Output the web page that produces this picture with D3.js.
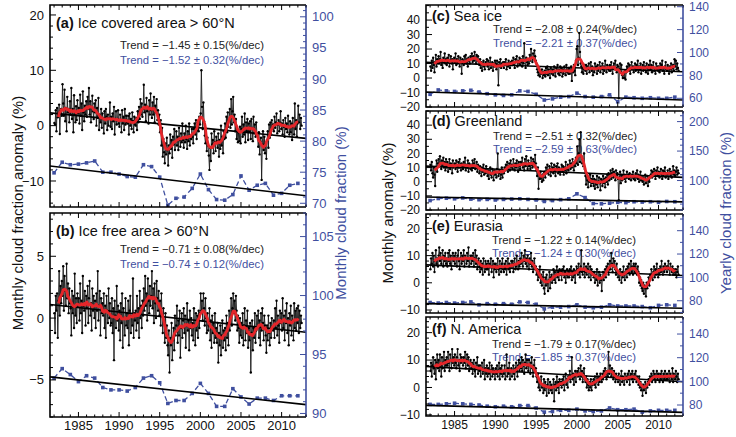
<!DOCTYPE html>
<html><head><meta charset="utf-8">
<script src="https://cdn.jsdelivr.net/npm/d3@7"></script>
<style>body{margin:0;background:#fff}text{font-family:"Liberation Sans",Arial,Helvetica,sans-serif}</style>
</head><body><svg id="chart" width="736" height="437"></svg>
<script>
// ---------------- DATA ----------------
const firstYear = 1982;                    // monthly series start (Jan 1982)
const yearlyYears = d3.range(1982, 2013);  // yearly series 1982..2012
const xTickYears = [1985, 1990, 1995, 2000, 2005, 2010];

const iceCoveredMonthly = [
0.5,0.2,2.8,-1.0,3.2,1.5,2.0,3.8,-1.5,2.6,3.0,1.8,
7.5,4.0,1.8,6.5,0.8,3.2,-1.0,5.2,2.4,3.0,0.6,4.4,
2.0,6.8,1.2,3.0,-1.2,5.5,2.0,0.6,3.5,1.0,4.6,2.2,
3.2,0.4,5.6,1.8,4.0,-0.8,6.2,2.4,0.8,3.6,2.0,4.4,
1.6,5.2,3.0,6.8,2.0,4.4,0.6,3.4,5.4,2.6,1.2,4.0,
2.4,4.6,0.0,3.2,1.4,5.0,-0.8,2.0,0.6,3.0,-0.4,2.2,
1.2,-1.4,2.6,0.4,3.0,1.6,-0.8,2.0,0.0,1.4,4.2,-0.2,
1.6,-0.6,2.2,0.8,3.4,-1.6,1.0,2.6,0.2,1.0,2.8,0.4,
-0.2,2.0,1.0,-1.2,2.8,0.4,1.6,-0.8,3.0,0.2,1.8,0.6,
0.4,1.8,-1.6,2.2,0.0,1.2,-0.6,2.4,0.8,-1.2,1.6,0.2,
0.0,1.4,-0.8,2.6,0.6,3.4,1.2,4.8,2.0,4.0,1.6,3.0,
7.4,2.4,3.8,0.8,5.0,2.6,3.4,0.4,4.6,2.0,5.8,2.8,
1.4,4.2,2.0,5.2,0.6,3.6,2.4,4.8,1.0,2.8,0.2,2.0,
-1.2,1.0,-3.6,-0.4,-5.6,-2.4,-4.8,-6.8,-3.2,-5.2,-2.2,-4.4,
-7.2,-3.6,-5.0,-1.6,-4.2,-2.6,-5.8,-2.0,-3.4,-0.6,-4.4,-2.8,
-1.0,-3.6,-2.0,-4.4,-0.4,-2.6,-3.8,-1.4,-3.0,0.4,-2.6,-4.0,
-1.4,-3.0,0.0,-2.4,-4.2,-1.0,-2.8,0.4,-3.6,-1.8,-2.4,-0.6,
-2.0,-3.2,-0.6,0.4,-1.6,1.0,-2.4,-0.8,0.6,-1.0,1.6,0.2,
2.2,10.0,3.4,-0.6,4.2,0.8,-1.8,-3.2,-0.6,-4.6,-2.2,-3.6,
-5.4,-8.0,-4.0,-6.4,-1.4,-3.4,-2.6,-5.0,-1.0,-3.0,-4.6,-2.0,
-2.8,-4.0,-1.4,-5.6,-2.6,-4.2,0.0,-3.6,-2.0,-5.0,-1.0,-2.4,
0.4,-2.2,1.6,-1.2,2.4,-0.2,1.0,3.0,-0.4,4.8,0.2,2.6,
5.2,0.6,2.0,-1.0,1.2,-2.4,-0.6,-3.0,-1.2,-2.8,-0.2,-3.2,
-0.6,1.6,-2.0,0.2,-1.6,2.2,-3.0,0.6,-1.0,1.2,-2.6,0.4,
-1.0,0.8,-2.4,1.2,-0.4,-2.8,1.6,-1.4,0.2,-2.0,0.6,-1.4,
-1.8,-3.8,-1.2,-5.2,-2.8,-2.2,-9.8,-3.4,-1.0,-4.4,-2.0,-5.0,
-3.2,-6.0,-2.6,-1.0,-4.0,0.2,-2.2,0.6,-1.6,1.0,-0.6,0.2,
-1.0,1.6,-0.4,0.6,2.2,-1.4,0.2,1.0,-1.0,0.6,2.6,-0.6,
0.4,-1.6,1.0,-0.2,-2.0,1.4,-0.6,0.4,-1.2,1.8,-0.2,-1.6,
0.8,-1.2,0.4,-2.6,1.4,-0.2,-1.6,4.0,-0.6,1.0,-2.0,0.4,
3.6,0.6,2.0,-0.6,1.4,0.0];

const iceFreeMonthly = [
0.4,-1.2,1.8,0.6,2.0,-1.6,1.4,3.8,0.2,2.6,1.2,3.0,
1.8,4.2,0.6,3.4,2.2,1.0,4.4,1.6,2.8,0.4,2.4,1.2,
0.8,-1.4,2.2,0.4,1.8,-0.8,3.6,0.2,1.6,-0.4,2.0,1.0,
1.6,-0.2,2.8,0.4,1.4,-1.2,3.4,1.0,0.6,2.2,-0.6,1.8,
0.8,2.6,-0.4,1.6,3.0,0.2,1.2,-1.0,2.4,0.6,1.8,0.0,
1.4,-0.8,2.0,0.6,3.8,-0.2,1.0,2.2,-1.4,1.6,0.4,1.2,
0.2,2.0,-0.8,1.0,-1.6,1.8,0.6,-0.4,2.4,0.0,1.2,-0.6,
-0.4,1.6,-1.2,0.8,-3.4,1.4,0.2,-0.8,2.6,-0.2,1.0,-1.0,
0.6,-1.8,1.2,-0.4,2.0,-2.4,0.8,0.0,-1.4,1.6,-0.6,0.4,
-0.8,1.4,-2.2,0.6,1.8,-1.2,0.2,-0.6,3.2,-1.6,0.4,-0.2,
0.6,-1.0,1.8,-0.4,0.8,-1.6,2.2,0.0,1.0,-0.8,1.4,0.2,
2.4,0.6,3.4,1.0,2.0,-0.2,3.2,1.4,0.4,2.6,1.0,1.8,
3.8,0.8,2.4,-0.4,2.8,1.2,0.0,3.0,1.6,0.6,2.2,0.2,
1.4,-0.6,2.0,0.2,-1.2,0.8,-0.4,-2.0,0.4,-1.6,-0.6,-2.2,
-3.0,-1.0,-4.4,-1.6,-2.2,-0.4,-3.4,-1.8,-0.8,-2.6,0.2,-1.4,
-0.6,1.0,-2.0,-0.2,-1.4,0.6,-3.2,-0.8,0.4,-1.6,-0.2,0.8,
-1.2,0.2,-2.4,-0.6,1.2,-1.0,-0.2,-2.6,0.6,-0.8,0.0,-1.4,
-0.4,-1.8,0.8,-0.6,-2.2,0.4,-1.0,0.2,-1.6,0.6,-0.8,0.4,
2.0,0.6,1.4,-0.2,2.0,0.8,-0.6,1.6,0.0,-1.2,0.4,-1.0,
-0.6,0.8,-1.8,-0.2,-2.4,0.2,-1.2,-0.4,-2.0,0.4,-1.6,-0.8,
-2.0,-0.4,-3.6,-1.2,-2.2,-0.6,-3.0,-1.4,-0.2,-2.4,-1.0,-1.8,
-0.8,-2.6,0.2,-1.6,-0.4,-2.2,0.6,-1.0,0.0,1.6,-0.6,0.8,
2.0,0.4,1.4,-0.2,1.8,0.6,-1.0,0.2,-0.8,-2.0,0.0,-1.4,
-0.4,-1.6,0.4,-2.2,-0.6,0.8,-1.8,-0.2,-1.2,0.6,-2.4,-0.8,
-1.8,-0.4,-4.4,-1.2,-0.2,-2.6,-0.8,-1.6,0.4,-2.0,-1.0,0.2,
-0.8,0.6,-1.6,-0.2,-2.2,0.4,-1.0,0.8,-0.4,-1.8,0.2,-0.6,
-1.4,-2.8,-0.6,-1.8,0.2,-1.2,-2.2,-0.4,-1.6,0.0,-0.8,-1.0,
-0.2,-1.6,0.8,-0.8,1.4,-1.4,0.2,-0.6,-2.0,0.6,-0.4,0.4,
-1.0,1.6,-0.8,0.2,-1.8,0.6,-0.4,1.2,-1.2,0.0,-2.2,0.4,
-0.6,1.0,-1.4,0.2,-0.2,-1.8,1.2,-0.8,0.6,-1.0,0.8,-0.4,
1.0,-1.2,0.6,-0.8,0.2,-0.4];

const seaIceMonthly = [
8,5,12,7,14,9,4,11,16,8,13,10,
15,10,13,18,9,12,7,14,11,17,10,13,
9,14,11,16,8,12,15,10,13,6,12,14,
11,17,9,13,10,15,12,8,14,11,3,13,
12,9,15,11,16,10,13,8,14,12,10,15,
13,17,11,15,12,18,14,10,16,12,15,11,
9,13,7,11,5,10,12,8,6,11,9,13,
8,12,6,10,14,7,9,11,5,10,8,12,
10,6,12,9,-5,11,8,13,7,10,9,11,
7,11,9,13,6,10,8,12,10,7,11,9,
12,9,14,10,7,13,11,15,8,12,10,14,
9,13,11,8,15,10,24,12,7,14,11,9,
13,10,16,12,20,14,11,17,13,19,15,12,
10,6,4,2,7,1,5,3,6,0,4,2,
5,1,7,3,8,2,6,4,0,7,5,3,
6,2,8,4,1,7,5,9,3,6,2,8,
4,7,1,6,3,8,5,2,9,4,6,3,
7,3,5,8,-2,6,4,9,5,2,12,20,
22,9,14,31,18,10,8,4,7,3,6,9,
5,9,3,8,6,10,4,7,11,5,8,2,
7,4,10,6,8,3,9,5,7,11,4,8,
6,10,3,8,5,12,7,4,9,6,8,5,
9,5,11,7,3,8,10,6,12,7,4,9,
8,-14,6,10,4,9,2,0,3,0,5,-1,
4,8,6,10,5,9,3,7,11,6,8,4,
7,10,5,9,6,12,4,8,6,10,3,7,
9,5,11,6,8,4,10,7,3,9,6,12,
6,9,4,8,11,5,7,3,10,6,8,5,
8,4,10,6,9,12,5,7,3,8,11,6,
5,9,7,3,8,6,10,4,7,9,5,13,
8,12,6,10,7,5];

const greenlandMonthly = [
12,8,14,6,3,10,5,-3,9,15,7,13,
16,11,18,13,9,15,12,17,10,14,8,16,
10,14,7,12,16,9,13,11,6,15,10,12,
13,9,15,11,7,14,10,16,12,8,13,11,
9,14,11,17,8,12,10,15,7,13,11,9,
12,8,15,10,13,16,9,11,14,7,12,10,
6,11,8,4,10,7,12,5,9,6,11,8,
4,8,2,7,10,5,3,9,6,1,8,5,
7,3,9,20,4,6,8,2,5,10,3,7,
6,10,8,12,9,14,7,11,13,8,15,10,
12,9,16,11,8,13,10,15,12,7,14,11,
9,14,12,17,10,13,8,16,11,18,12,9,
15,11,13,9,17,12,10,16,14,11,19,13,
8,4,10,-5,6,2,7,3,0,5,1,6,
7,3,10,6,12,8,5,11,9,4,13,7,
10,6,12,8,4,11,9,13,6,10,7,5,
9,12,7,11,5,10,8,14,6,9,12,8,
11,15,9,13,10,16,12,8,14,11,17,13,
25,12,20,30,14,35,18,13,16,11,20,9,
4,-2,6,1,-4,3,0,5,-3,2,-1,4,
-3,2,-5,1,-2,4,-4,0,3,-1,-6,2,
1,-3,4,-1,2,-4,3,0,5,-2,6,1,
4,8,2,6,9,3,7,5,1,8,4,6,
2,-13,3,7,-1,5,1,4,8,2,5,0,
3,7,3,5,2,6,4,1,5,3,7,2,
4,1,6,3,8,2,5,0,4,7,1,3,
0,3,-2,2,5,-1,1,4,-3,2,0,3,
5,8,3,7,4,9,6,2,8,5,10,4,
7,3,6,9,5,2,8,4,7,10,3,6,
5,8,2,6,9,4,7,3,6,11,5,8,
4,7,10,5,8,6];

const eurasiaMonthly = [
5,9,7,11,6,10,4,8,12,7,9,6,
10,13,8,11,7,9,12,6,10,8,11,7,
9,6,11,8,12,7,10,5,9,11,8,10,
7,11,9,6,10,12,8,5,9,11,7,10,
8,12,6,10,9,7,11,8,13,6,9,10,
7,10,8,11,6,9,12,7,10,5,8,9,
6,4,8,5,7,3,9,6,4,8,5,7,
5,8,3,7,6,9,4,6,8,2,7,5,
7,4,6,9,5,3,8,6,4,7,9,5,
4,7,5,8,3,6,9,5,7,4,6,8,
6,8,4,7,9,5,6,10,7,5,8,6,
9,7,11,8,6,10,8,12,7,9,6,10,
8,5,9,7,11,6,8,4,7,9,5,6,
3,5,1,4,2,6,0,3,-1,2,4,-2,
-4,2,-1,3,0,-3,1,4,-2,2,3,0,
2,5,1,4,0,3,6,2,4,1,5,3,
4,1,5,3,6,2,4,0,3,5,2,4,
2,5,3,6,1,4,2,5,3,0,4,6,
5,3,7,4,2,6,12,4,3,5,7,2,
4,6,3,5,7,2,4,6,1,5,3,4,
2,4,0,3,1,5,-1,2,4,0,3,1,
-3,2,4,1,3,5,2,6,4,7,3,5,
8,5,11,7,4,9,6,8,5,3,7,4,
2,4,1,5,3,0,4,2,6,3,1,4,
5,2,6,4,7,3,5,8,4,6,3,7,
6,4,7,5,3,6,4,0,2,-1,1,-2,
-3,0,-4,-1,-2,-5,0,-2,0,2,-1,3,
2,5,3,1,4,6,2,5,3,7,4,2,
5,3,6,4,8,5,3,6,4,7,5,6,
4,6,8,5,3,7,5,4,6,3,5,4,
3,5,2,4,6,3];

const nAmericaMonthly = [
6,9,4,8,11,7,5,10,3,9,12,7,
10,6,12,8,4,11,7,9,13,6,10,8,
11,8,13,9,6,12,10,7,14,9,11,8,
12,9,7,11,14,8,10,6,12,9,11,10,
8,11,9,13,7,10,12,8,11,6,9,10,
7,9,5,8,10,6,4,9,7,11,5,8,
6,8,4,7,9,5,6,10,3,7,5,8,
4,7,5,9,3,6,8,4,7,5,6,3,
7,5,8,4,6,9,3,7,5,8,4,6,
5,8,3,6,12,4,7,5,9,3,6,7,
4,6,8,5,3,7,9,6,4,8,10,6,
9,7,11,6,10,8,5,9,12,7,10,8,
6,10,8,5,9,11,7,4,8,10,6,7,
4,2,5,0,3,-1,2,4,0,1,-2,3,
-1,2,0,-3,1,3,-2,0,2,-1,1,-2,
0,3,-5,1,2,-1,4,0,2,-2,3,1,
2,0,3,1,4,-1,2,5,1,3,0,4,
3,6,2,4,11,3,5,1,4,6,2,5,
6,4,7,5,3,8,4,6,2,5,7,3,
2,4,0,3,1,-1,2,0,3,-1,1,2,
3,1,4,0,2,5,3,1,4,2,5,3,
2,5,3,6,4,7,5,3,6,4,13,5,
8,6,4,7,5,3,6,4,2,5,3,4,
2,5,3,1,4,6,2,4,3,1,5,3,
4,2,5,3,6,1,4,5,3,6,2,4,
5,3,6,2,4,3,1,4,0,2,-1,1,
-3,1,-1,0,2,-2,1,0,2,3,1,4,
3,5,2,4,6,3,5,2,4,6,3,5,
4,2,5,3,6,4,2,5,3,6,4,3,
5,3,4,6,2,5,4,3,7,2,5,4,
3,6,4,2,5,3];

const iceCoveredYearly = [74.9,76.6,76.2,76.3,76.5,76.8,75.0,75.0,74.7,74.3,74.2,76.2,75.9,74.2,69.7,70.8,71.0,72.4,74.7,72.2,70.6,70.5,71.4,74.4,72.1,72.9,73.2,71.3,71.6,72.9,73.2];
const iceFreeYearly   = [93.0,93.8,93.3,92.7,93.2,93.0,92.2,92.0,92.0,91.9,92.2,93.0,93.2,92.6,90.85,91.1,91.1,91.7,92.55,91.7,90.6,90.6,92.1,91.4,90.8,91.3,91.3,91.1,91.5,91.5,91.5];
const seaIceYearly    = [63.5,67.3,66.5,66,66.5,67,65.5,64,63,62.5,63,66.5,66,63.5,58.5,59.5,61,61.5,64.5,61.5,61,61.5,63,57,61,60.5,60,60.5,60,60,61];
const greenlandYearly = [66,69.5,70,69,70.5,68.5,67.5,68,67,68,68.5,69,68,67,64.5,66,67.5,69,77.5,71,61,60.5,61.5,63,62.5,64,63.5,64,63,64.5,64];
const eurasiaYearly   = [78.5,78,78.5,78,78.5,79,76.5,77.5,77,77.5,77,79,78.5,77,73,74.5,74.5,75,76.5,74.5,74,74.5,76.5,75.5,75.5,75.5,75,74,76,76.5,76];
const nAmericaYearly  = [80.5,80.5,81,81.5,81,80.5,80,79,78.5,79,78.5,79.5,79.5,77.5,74,74.5,75.5,75.5,76.5,75,74.5,75,77.5,76,76,76.5,74,75,75.5,75.5,75.5];

// trend line values at the start and end of the time axis [monthly anomaly, yearly fraction]
const trendMonthlyEnds = {a:[2.3,-2.3], b:[1.1,-1.15], c:[10.9,4.3], d:[11.0,3.1], e:[6.6,2.7], f:[7.7,2.1]};
const trendYearlyEnds  = {a:[76.0,71.2], b:[93.1,90.75], c:[65.5,58.5], d:[72,63.8], e:[77.5,73.6], f:[79.7,73.8]};
const trendMonthlyText = {a:"Trend = −1.45 ± 0.15(%/dec)", b:"Trend = −0.71 ± 0.08(%/dec)", c:"Trend = −2.08 ± 0.24(%/dec)", d:"Trend = −2.51 ± 0.32(%/dec)", e:"Trend = −1.22 ± 0.14(%/dec)", f:"Trend = −1.79 ± 0.17(%/dec)"};
const trendYearlyText  = {a:"Trend = −1.52 ± 0.32(%/dec)", b:"Trend = −0.74 ± 0.12(%/dec)", c:"Trend = −2.21 ± 0.37(%/dec)", d:"Trend = −2.59 ± 0.63(%/dec)", e:"Trend = −1.24 ± 0.30(%/dec)", f:"Trend = −1.85 ± 0.37(%/dec)"};
const panelTitles = {a:"Ice covered area > 60°N", b:"Ice free area > 60°N", c:"Sea ice", d:"Greenland", e:"Eurasia", f:"N. America"};
const leftTicks  = {a:[-10,0,10,20], b:[-5,0,5], c:[-20,-10,0,10,20,30,40], d:[-20,-10,0,10,20,30,40], e:[-10,0,10,20], f:[-10,0,10,20]};
const rightTicks = {a:[70,75,80,85,90,95,100], b:[90,95,100,105], c:[60,80,100,120,140], d:[100,150,200], e:[80,100,120,140], f:[80,100,120,140]};

// ---------------- LAYOUT ----------------
const BLUE = "#3f4f9f", RED = "#e4262a";
const xDomain = [1981.5, 2013];
const layout = {
  a:{x:[50,306], y:[5,207],   l:[-14.7,21.8], r:[69.4,101.9], lMinor:2, rMinor:1, fs:13, xlab:false, tfs:14.5, trendX:120, tY:[45,60], ttlY:23},
  b:{x:[50,306], y:[213,417], l:[-8.0,8.5],   r:[89.7,107],   lMinor:1, rMinor:1, fs:13, xlab:true,  tfs:14.5, trendX:120, tY:[249,264], ttlY:231},
  c:{x:[426,683], y:[5,107],  l:[-20,50.4],   r:[52.4,141.5], lMinor:5, rMinor:10, fs:12, xlab:false, tfs:14.5, trendX:493, tY:[29,43], ttlY:16},
  d:{x:[426,683], y:[111,210],l:[-20,50],     r:[50,218],     lMinor:5, rMinor:10, fs:12, xlab:false, tfs:14.5, trendX:493, tY:[136,149], ttlY:121},
  e:{x:[426,683], y:[214,313],l:[-11.1,25.3], r:[69.5,154.3], lMinor:2, rMinor:10, fs:12, xlab:false, tfs:14.5, trendX:492, tY:[240,253], ttlY:226},
  f:{x:[426,683], y:[317,416],l:[-10.4,25.7], r:[70.7,154.4], lMinor:2, rMinor:10, fs:12, xlab:true,  tfs:14.5, trendX:492, tY:[344,357], ttlY:329}
};
const monthlyData = {a:iceCoveredMonthly, b:iceFreeMonthly, c:seaIceMonthly, d:greenlandMonthly, e:eurasiaMonthly, f:nAmericaMonthly};
const yearlyData  = {a:iceCoveredYearly, b:iceFreeYearly, c:seaIceYearly, d:greenlandYearly, e:eurasiaYearly, f:nAmericaYearly};

const svg = d3.select("#chart");

function runningMean(vals, w){
  const out=[];
  for(let i=0;i<vals.length;i++){
    const lo=i-Math.floor(w/2), hi=lo+w;
    if(lo<0||hi>vals.length){out.push(null);continue;}
    out.push(d3.mean(vals.slice(lo,hi)));
  }
  return out;
}

Object.keys(layout).forEach(k=>{
  const L = layout[k];
  const x = d3.scaleLinear().domain(xDomain).range(L.x);
  const yl = d3.scaleLinear().domain(L.l).range([L.y[1],L.y[0]]);
  const yr = d3.scaleLinear().domain(L.r).range([L.y[1],L.y[0]]);
  const g = svg.append("g");
  const clipId = "clip"+k;
  svg.append("clipPath").attr("id",clipId).append("rect")
    .attr("x",L.x[0]).attr("y",L.y[0]).attr("width",L.x[1]-L.x[0]).attr("height",L.y[1]-L.y[0]);

  // title + trend texts (drawn first, data over them)
  const tt = g.append("text").attr("x",L.x[0]+6).attr("y",L.ttlY).attr("dy","0.35em")
    .attr("font-size",L.tfs).attr("fill","#111");
  tt.append("tspan").attr("font-weight","bold").text("("+k+")");
  tt.append("tspan").text(" "+panelTitles[k]);
  g.append("text").attr("x",L.trendX).attr("y",L.tY[0]).attr("dy","0.35em").attr("font-size",11.3).attr("fill","#222").text(trendMonthlyText[k]);
  g.append("text").attr("x",L.trendX).attr("y",L.tY[1]).attr("dy","0.35em").attr("font-size",11.3).attr("fill",BLUE).text(trendYearlyText[k]);

  const pg = g.append("g").attr("clip-path",`url(#${clipId})`);
  const mvals = monthlyData[k];
  const mpts = mvals.map((v,i)=>({t:firstYear+i/12+1/24, v}));
  // yearly blue series
  const ypts = yearlyData[k].map((v,i)=>({t:yearlyYears[i], v}));
  pg.append("path").datum(ypts).attr("fill","none").attr("stroke",BLUE).attr("stroke-width",1.3)
    .attr("stroke-dasharray","5,3")
    .attr("d",d3.line().x(d=>x(d.t)).y(d=>yr(d.v)));
  pg.selectAll(null).data(ypts).enter().append("rect")
    .attr("x",d=>x(d.t)-1.8).attr("y",d=>yr(d.v)-1.8).attr("width",3.6).attr("height",3.6).attr("fill",BLUE);
  // yearly trend
  pg.append("line").attr("x1",x(xDomain[0])).attr("x2",x(xDomain[1]))
    .attr("y1",yr(trendYearlyEnds[k][0])).attr("y2",yr(trendYearlyEnds[k][1])).attr("stroke","#000").attr("stroke-width",1.6);
  // monthly line + dots
  pg.append("path").datum(mpts).attr("fill","none").attr("stroke","#1a1a1a").attr("stroke-width",0.9)
    .attr("d",d3.line().x(d=>x(d.t)).y(d=>yl(d.v)));
  pg.selectAll(null).data(mpts).enter().append("circle")
    .attr("cx",d=>x(d.t)).attr("cy",d=>yl(d.v)).attr("r",1.2).attr("fill","#000");
  // monthly trend
  pg.append("line").attr("x1",x(xDomain[0])).attr("x2",x(xDomain[1]))
    .attr("y1",yl(trendMonthlyEnds[k][0])).attr("y2",yl(trendMonthlyEnds[k][1])).attr("stroke","#000").attr("stroke-width",1.6);
  // running mean (12-month)
  const rm = runningMean(mvals,12).map((v,i)=>({t:mpts[i].t, v})).filter(d=>d.v!==null);
  pg.append("path").datum(rm).attr("fill","none").attr("stroke",RED).attr("stroke-width",2.8).attr("stroke-linejoin","round")
    .attr("d",d3.line().curve(d3.curveBasis).x(d=>x(d.t)).y(d=>yl(d.v)));

  // frame
  const ax = g.append("g");
  ax.append("path").attr("d",`M${L.x[1]},${L.y[0]}H${L.x[0]}V${L.y[1]}H${L.x[1]}`).attr("fill","none").attr("stroke","#000").attr("stroke-width",1.6);
  ax.append("line").attr("x1",L.x[1]).attr("x2",L.x[1]).attr("y1",L.y[0]).attr("y2",L.y[1]).attr("stroke",BLUE).attr("stroke-width",1.6);
  // x ticks
  d3.range(1982,2014).forEach(yv=>{
    if(yv<xDomain[0]||yv>xDomain[1]) return;
    const len = yv%5===0?5:2.5, px=x(yv);
    ax.append("line").attr("x1",px).attr("x2",px).attr("y1",L.y[1]).attr("y2",L.y[1]-len).attr("stroke","#000").attr("stroke-width",1);
    ax.append("line").attr("x1",px).attr("x2",px).attr("y1",L.y[0]).attr("y2",L.y[0]+len).attr("stroke","#000").attr("stroke-width",1);
  });
  if(L.xlab){
    xTickYears.forEach(yv=>{
      ax.append("text").attr("x",x(yv)).attr("y",L.y[1]+13).attr("text-anchor","middle").attr("font-size",L.fs).attr("fill","#111").text(yv);
    });
  }
  // left ticks
  const lmin = Math.ceil(L.l[0]/L.lMinor)*L.lMinor;
  d3.range(lmin, L.l[1]+1e-9, L.lMinor).forEach(v=>{
    const major = leftTicks[k].some(t=>Math.abs(t-v)<1e-6);
    const py = yl(v);
    ax.append("line").attr("x1",L.x[0]).attr("x2",L.x[0]+(major?6:3)).attr("y1",py).attr("y2",py).attr("stroke","#000").attr("stroke-width",1);
  });
  leftTicks[k].forEach(v=>{
    ax.append("text").attr("x",L.x[0]-6).attr("y",yl(v)).attr("dy","0.35em").attr("text-anchor","end")
      .attr("font-size",L.fs).attr("fill","#111").text(d3.format("")(v).replace("-","−"));
  });
  // right ticks
  const rmin = Math.ceil(L.r[0]/L.rMinor)*L.rMinor;
  d3.range(rmin, L.r[1]+1e-9, L.rMinor).forEach(v=>{
    const major = rightTicks[k].some(t=>Math.abs(t-v)<1e-6);
    const py = yr(v);
    ax.append("line").attr("x1",L.x[1]).attr("x2",L.x[1]-(major?6:3)).attr("y1",py).attr("y2",py).attr("stroke",BLUE).attr("stroke-width",1);
  });
  rightTicks[k].forEach(v=>{
    ax.append("text").attr("x",L.x[1]+6).attr("y",yr(v)).attr("dy","0.35em").attr("text-anchor","start")
      .attr("font-size",L.fs).attr("fill",BLUE).text(v);
  });
});

// axis titles
function vtitle(xp, yp, txt, color, fs){
  svg.append("text").attr("transform",`translate(${xp},${yp}) rotate(-90)`).attr("text-anchor","middle")
    .attr("font-size",fs).attr("fill",color).text(txt);
}
vtitle(23, 213, "Monthly cloud fraction anomaly (%)", "#111", 15);
vtitle(346, 213, "Monthly cloud fraction (%)", BLUE, 15);
vtitle(393, 213, "Monthly anomaly (%)", "#111", 15);
vtitle(731, 213, "Yearly cloud fraction (%)", BLUE, 15);
</script></body></html>
